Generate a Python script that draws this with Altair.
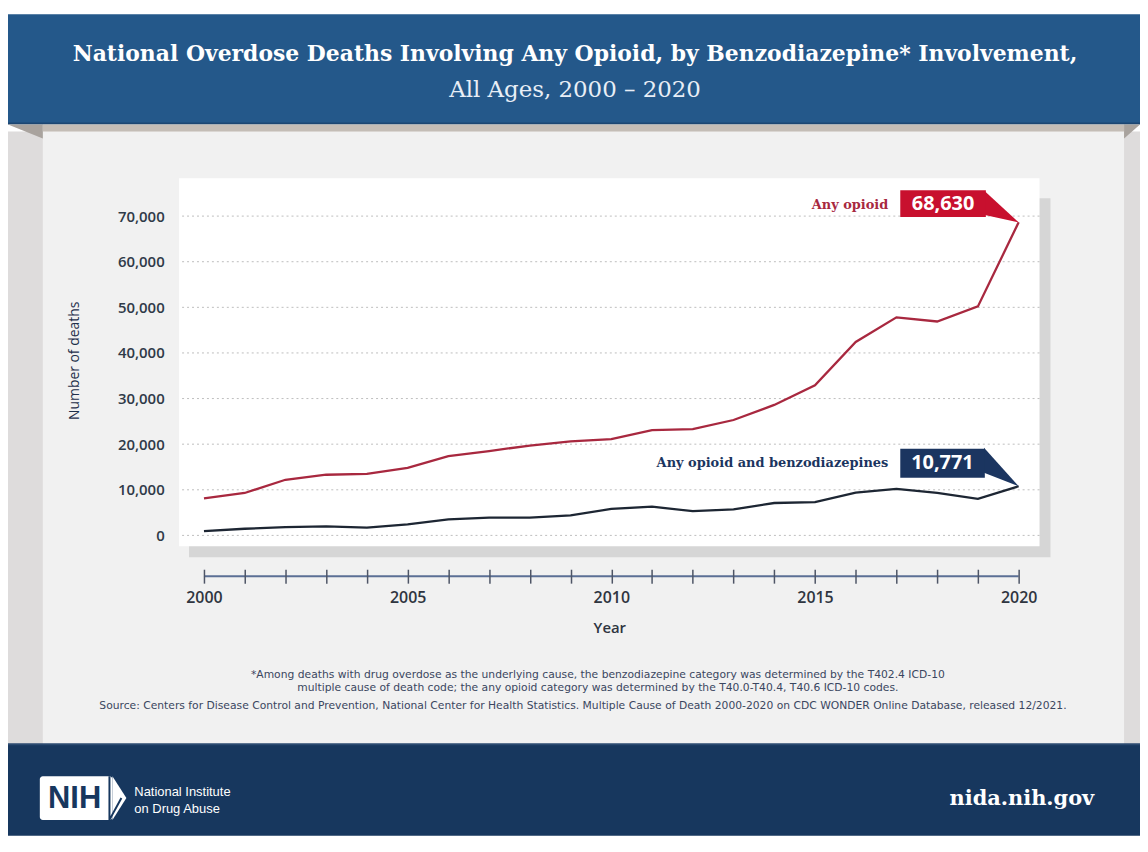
import altair as alt
import pandas as pd

# ---- data ----
years = list(range(2000, 2021))
any_opioid = [8100, 9300, 12200, 13300, 13500, 14800, 17400, 18500, 19700, 20600,
              21100, 23100, 23300, 25300, 28600, 32900, 42400, 47800, 46900, 50200, 68630]
opioid_benzo = [940, 1460, 1800, 2000, 1700, 2400, 3500, 3900, 3900, 4400,
                5800, 6300, 5300, 5700, 7100, 7300, 9400, 10200, 9300, 8000, 10771]
y_ticks = [0, 10000, 20000, 30000, 40000, 50000, 60000, 70000]
series_names = ["Any opioid", "Any opioid and benzodiazepines"]

title_line1 = "National Overdose Deaths Involving Any Opioid, by Benzodiazepine* Involvement,"
title_line2 = "All Ages, 2000 \u2013 2020"
note1 = ("*Among deaths with drug overdose as the underlying cause, the benzodiazepine category "
         "was determined by the T402.4 ICD-10")
note2 = ("multiple cause of death code; the any opioid category was determined by the "
         "T40.0-T40.4, T40.6 ICD-10 codes.")
source = ("Source: Centers for Disease Control and Prevention, National Center for Health Statistics. "
          "Multiple Cause of Death 2000-2020 on CDC WONDER Online Database, released 12/2021.")

RED = "#a8283f"
RED_BOX = "#c8102e"
NAVY = "#1b3560"
LINE_DARK = "#1d2633"

W, H = 865, 370
xscale = alt.Scale(domain=[1999.3895, 2020.5128], nice=False, zero=False)
yscale = alt.Scale(domain=[-2399, 78287], nice=False, zero=False)

xaxis = alt.Axis(values=years, offset=23, tickSize=14, tickWidth=1.5, tickColor="#4e5566",
                 domain=False, grid=False, zindex=1,
                 labelExpr="datum.value % 5 == 0 ? format(datum.value, 'd') : ''",
                 labelFont="Open Sans", labelFontWeight=600, labelFontSize=16,
                 labelColor="#2f3540", labelPadding=6,
                 title="Year", titleFont="Open Sans", titleFontWeight=600,
                 titleFontSize=15, titleColor="#2f3540", titlePadding=16)
yaxis = alt.Axis(values=y_ticks, domain=False, ticks=False, grid=False,
                 labelExpr="format(datum.value, ',')",
                 zindex=1, labelPadding=15,
                 labelFont="Open Sans", labelFontWeight=600, labelFontSize=15,
                 labelColor="#2f3a48",
                 title="Number of deaths", titleFont="Open Sans", titleFontWeight="normal",
                 titleFontSize=14, titleColor="#1f2f4a", titleAngle=-90,
                 titleX=-105, titleY=183, titleAlign="center", titleBaseline="middle")


def X(field):
    return alt.X(field, scale=xscale, axis=xaxis)


def Y(field):
    return alt.Y(field, scale=yscale, axis=yaxis)


df = pd.DataFrame({
    "year": years * 2,
    "deaths": any_opioid + opioid_benzo,
    "series": [series_names[0]] * len(years) + [series_names[1]] * len(years),
})

one = pd.DataFrame({"a": [0]})


def rect(x, x2, y, y2, color, **kw):
    return alt.Chart(one).mark_rect(color=color, **kw).encode(
        x=alt.value(x), x2=alt.value(x2), y=alt.value(y), y2=alt.value(y2))


def text(t, x, y, **kw):
    return alt.Chart(one).mark_text(text=t, **kw).encode(x=alt.value(x), y=alt.value(y))


# background pieces (pixel positions relative to plot box)
bg = [
    rect(-172, 966, -47, 569, "#dedcdc"),          # outer strips
    rect(-137, 950, -47, 569, "#f1f1f1"),          # light panel
    rect(-172, 966, -165, -55, "#24588a"),         # header
    rect(-172, 966, -56, -54, "#1c4672"),          # header bottom line
    rect(-137, 950, -54, -47, "#c4bdb6"),          # band under header
    rect(-172, 966, 569, 661, "#17375e"),          # footer
    rect(-172, 966, 568, 570, "#2b4a70"),
    rect(10, 876, 20, 381, "#d6d6d6"),             # plot box shadow
    rect(0, W, 0, H, "#ffffff"),                   # plot box
]

# header fold triangles
fold_l = alt.Chart(pd.DataFrame({"px": [-172, -137], "py": [-54, -40], "py2": [-54, -54]})).mark_area(
    color="#a9a39e").encode(x=alt.X("px:Q", scale=None), y=alt.Y("py:Q", scale=None),
                            y2="py2:Q")
fold_r = alt.Chart(pd.DataFrame({"px": [950, 966], "py": [-54, -54], "py2": [-40, -54]})).mark_area(
    color="#a9a39e").encode(x=alt.X("px:Q", scale=None), y=alt.Y("py:Q", scale=None),
                            y2="py2:Q")

lines = alt.Chart(df).mark_line(strokeWidth=2.3).encode(
    x=X("year:Q"),
    y=Y("deaths:Q"),
    color=alt.Color("series:N", scale=alt.Scale(domain=series_names, range=[RED, LINE_DARK]),
                    legend=None),
)

grid = alt.Chart(pd.DataFrame({"v": y_ticks})).mark_rule(
    color="#bdbdbd", strokeDash=[2, 3], strokeWidth=1).encode(y=Y("v:Q"))

# x axis base line
axis_line = alt.Chart(pd.DataFrame({"a": [years[0]], "b": [years[-1]]})).mark_rule(
    color="#5b6f95", strokeWidth=2).encode(x=X("a:Q"), x2="b:Q", y=alt.value(400))

# callouts (in data space)
last_any = any_opioid[-1]
last_benzo = opioid_benzo[-1]
ptr_red = alt.Chart(pd.DataFrame({"x": [2019.17, years[-1]], "y": [75450, last_any],
                                  "y2": [70220, last_any]})).mark_area(color=RED_BOX).encode(
    x=X("x:Q"), y=Y("y:Q"), y2="y2:Q")
ptr_navy = alt.Chart(pd.DataFrame({"x": [2019.15, years[-1]], "y": [19190, last_benzo],
                                   "y2": [13740, last_benzo]})).mark_area(color=NAVY).encode(
    x=X("x:Q"), y=Y("y:Q"), y2="y2:Q")

box_df = pd.DataFrame({
    "x": [2017.094, 2017.094], "x2": [2019.195, 2019.17],
    "y": [75670, 18970], "y2": [69780, 12650],
    "c": [RED_BOX, NAVY],
    "tx": [2018.145, 2018.13], "ty": [72620, 15920],
    "val": [f"{last_any:,}", f"{last_benzo:,}"],
    "lx": [2016.80, 2016.80], "ly": [72400, 15920],
    "lab": series_names, "lc": [RED, NAVY],
})
boxes = alt.Chart(box_df).mark_rect().encode(
    x=X("x:Q"), x2="x2:Q", y=Y("y:Q"), y2="y2:Q",
    color=alt.Color("c:N", scale=None))
box_txt = alt.Chart(box_df).mark_text(font="Open Sans", fontWeight="bold", fontSize=20,
                                      color="white", baseline="middle").encode(
    x=X("tx:Q"), y=Y("ty:Q"), text="val:N")
lab_txt = alt.Chart(box_df).mark_text(font="DejaVu Serif", fontWeight="bold", fontSize=13,
                                      align="right", baseline="middle").encode(
    x=X("lx:Q"), y=Y("ly:Q"), text="lab:N",
    color=alt.Color("lc:N", scale=None))

# titles & notes
titles = [
    text(title_line1, 398, -125, font="DejaVu Serif", fontWeight="bold", fontSize=22,
         color="white", align="center", baseline="middle"),
    text(title_line2, 398, -89, font="DejaVu Serif", fontWeight=300, fontSize=23,
         color="#e8eef6", align="center", baseline="middle"),
    text(note1, 421, 499, font="DejaVu Sans", fontSize=10.8, color="#3a4660",
         align="center", baseline="middle"),
    text(note2, 421, 512, font="DejaVu Sans", fontSize=10.8, color="#3a4660",
         align="center", baseline="middle"),
    text(source, 406, 531, font="DejaVu Sans", fontSize=10.8, color="#3a4660",
         align="center", baseline="middle"),
]

# footer logo
logo_box = alt.Chart(one).mark_rect(color="white", cornerRadius=3).encode(
    x=alt.value(-140), x2=alt.value(-67), y=alt.value(601), y2=alt.value(645))
logo_chev = alt.Chart(pd.DataFrame({"px": [-67, -53], "py": [601, 623], "py2": [645, 623]})).mark_area(
    color="white").encode(x=alt.X("px:Q", scale=None), y=alt.Y("py:Q", scale=None), y2="py2:Q")
logo_gap = alt.Chart(pd.DataFrame({"px": [-70, -58, -70], "py": [601, 623, 645]})).mark_line(
    color="#17375e", strokeWidth=2).encode(x=alt.X("px:Q", scale=None), y=alt.Y("py:Q", scale=None))
footer_txt = [
    text("NIH", -105, 624, font="Liberation Sans", fontWeight="bold", fontSize=31,
         color="#17375e", align="center", baseline="middle"),
    text("National Institute", -45, 617, font="Liberation Sans", fontSize=13, color="white",
         align="left", baseline="middle"),
    text("on Drug Abuse", -45, 634, font="Liberation Sans", fontSize=13, color="white",
         align="left", baseline="middle"),
    text("nida.nih.gov", 920, 624, font="DejaVu Serif", fontWeight="bold", fontSize=21,
         color="white", align="right", baseline="middle"),
]

chart = alt.layer(
    *bg, fold_l, fold_r, grid, axis_line, lines, ptr_red, ptr_navy, boxes, box_txt, lab_txt,
    *titles, logo_box, logo_chev, logo_gap, *footer_txt
).properties(
    width=W, height=H,
    autosize=alt.AutoSizeParams(type="none"),
    padding={"left": 172, "top": 169, "right": 101, "bottom": 291},
).configure_view(stroke=None).configure(background="white")

chart.save("out.html", embed_options={"renderer": "svg", "actions": False})
